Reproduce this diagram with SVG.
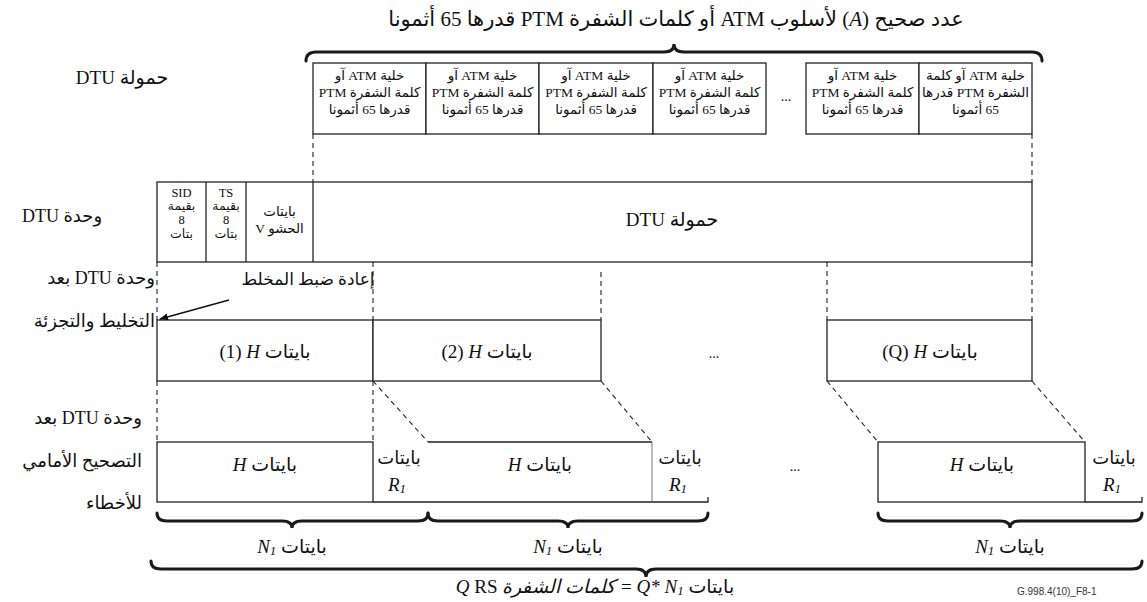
<svg xmlns="http://www.w3.org/2000/svg" width="1147" height="602" viewBox="0 0 1147 602">
<defs>
<style>
text{font-family:'Liberation Serif','DejaVu Sans',serif;fill:#111}
.ar{direction:rtl;unicode-bidi:embed}
.t21{font-size:21px}
.t19{font-size:19px}
.t18{font-size:18px}
.t17{font-size:17px}
.t13{font-size:13.5px}
.t12{font-size:12.5px}
.box{fill:#fff;stroke:#222;stroke-width:1.3}
.ln{stroke:#222;stroke-width:1.3;fill:none}
.thin{stroke:#777;stroke-width:1;fill:none}
.dash{stroke:#222;stroke-width:1.1;stroke-dasharray:5,4;fill:none}
.brace{stroke:#1a1a1a;stroke-width:3;fill:none;stroke-linecap:round}
.i{font-style:italic}
.code{font-family:'Liberation Sans',sans-serif;font-size:10px;fill:#333}
</style>
<marker id="arr" viewBox="0 0 10 10" refX="9" refY="5" markerWidth="9" markerHeight="9" orient="auto" markerUnits="userSpaceOnUse">
<path d="M0,1 L10,5 L0,9 z" fill="#111"/>
</marker>
</defs>
<rect width="1147" height="602" fill="#fff"/>

<g id="title">
<text class="t21 ar" x="676" y="26" text-anchor="middle">عدد صحيح (<tspan class="i">A</tspan>) لأسلوب ATM أو كلمات الشفرة PTM قدرها 65 أثمونا</text>
<path class="brace" d="M306,61 Q306,52 316,52 L664,52 Q674,52 674,44 Q674,52 684,52 L1032,52 Q1042,52 1042,61"/>
</g>

<g id="labels-left">
<text class="t19 ar" x="122" y="84" text-anchor="middle">حمولة DTU</text>
<text class="t18 ar" x="62" y="222" text-anchor="middle">وحدة DTU</text>
<text class="t18 ar" x="155" y="284" text-anchor="start">وحدة DTU بعد</text>
<text class="t18 ar" x="155" y="327" text-anchor="start">التخليط والتجزئة</text>
<text class="t18 ar" x="142" y="424" text-anchor="start">وحدة DTU بعد</text>
<text class="t18 ar" x="142" y="467" text-anchor="start">التصحيح الأمامي</text>
<text class="t18 ar" x="142" y="509" text-anchor="start">للأخطاء</text>
</g>

<g id="payload-cells">
<rect class="box" x="313" y="63" width="113" height="71"/>
<rect class="box" x="426" y="63" width="113" height="71"/>
<rect class="box" x="539" y="63" width="114" height="71"/>
<rect class="box" x="653" y="63" width="113" height="71"/>
<rect class="box" x="806" y="63" width="113" height="71"/>
<rect class="box" x="919" y="63" width="113" height="71"/>
<g class="t13">
<text class="ar" x="369.5" y="80" text-anchor="middle">خلية ATM آو</text>
<text class="ar" x="369.5" y="97" text-anchor="middle">كلمة الشفرة PTM</text>
<text class="ar" x="369.5" y="114" text-anchor="middle">قدرها 65 أثمونا</text>
<text class="ar" x="482.5" y="80" text-anchor="middle">خلية ATM آو</text>
<text class="ar" x="482.5" y="97" text-anchor="middle">كلمة الشفرة PTM</text>
<text class="ar" x="482.5" y="114" text-anchor="middle">قدرها 65 أثمونا</text>
<text class="ar" x="596" y="80" text-anchor="middle">خلية ATM آو</text>
<text class="ar" x="596" y="97" text-anchor="middle">كلمة الشفرة PTM</text>
<text class="ar" x="596" y="114" text-anchor="middle">قدرها 65 أثمونا</text>
<text class="ar" x="709.5" y="80" text-anchor="middle">خلية ATM آو</text>
<text class="ar" x="709.5" y="97" text-anchor="middle">كلمة الشفرة PTM</text>
<text class="ar" x="709.5" y="114" text-anchor="middle">قدرها 65 أثمونا</text>
<text class="ar" x="862.5" y="80" text-anchor="middle">خلية ATM آو</text>
<text class="ar" x="862.5" y="97" text-anchor="middle">كلمة الشفرة PTM</text>
<text class="ar" x="862.5" y="114" text-anchor="middle">قدرها 65 أثمونا</text>
<text class="ar" x="975.5" y="80" text-anchor="middle">خلية ATM آو كلمة</text>
<text class="ar" x="975.5" y="97" text-anchor="middle">الشفرة PTM قدرها</text>
<text class="ar" x="975.5" y="114" text-anchor="middle">65 أثمونا</text>
</g>
<text x="786" y="101" font-size="14" text-anchor="middle">...</text>
</g>

<g id="dtu-row">
<rect class="box" x="157" y="182" width="875" height="80"/>
<line class="ln" x1="206" y1="182" x2="206" y2="262"/>
<line class="ln" x1="246" y1="182" x2="246" y2="262"/>
<line class="ln" x1="313" y1="182" x2="313" y2="262"/>
<g class="t12">
<text x="181.5" y="197" text-anchor="middle">SID</text>
<text class="ar" x="181.5" y="210" text-anchor="middle">بقيمة</text>
<text x="181.5" y="224" text-anchor="middle">8</text>
<text class="ar" x="181.5" y="238" text-anchor="middle">بتات</text>
<text x="226" y="197" text-anchor="middle">TS</text>
<text class="ar" x="226" y="210" text-anchor="middle">بقيمة</text>
<text x="226" y="224" text-anchor="middle">8</text>
<text class="ar" x="226" y="238" text-anchor="middle">بتات</text>
</g>
<text class="t13 ar" x="279.5" y="216" text-anchor="middle">بايتات</text>
<text class="t13 ar" x="279.5" y="233" text-anchor="middle">الحشو V</text>
<text class="t19 ar" x="672" y="226" text-anchor="middle">حمولة DTU</text>
</g>

<g id="h-row">
<rect class="box" x="157" y="320" width="216" height="61"/>
<rect class="box" x="373" y="320" width="228" height="61"/>
<rect class="box" x="827" y="320" width="205" height="61"/>
<text class="t19" x="265" y="358" text-anchor="middle">(1) <tspan class="i">H</tspan> بايتات</text>
<text class="t19" x="487" y="358" text-anchor="middle">(2) <tspan class="i">H</tspan> بايتات</text>
<text x="714" y="358" font-size="14" text-anchor="middle">...</text>
<text class="t19" x="930" y="358" text-anchor="middle">(Q) <tspan class="i">H</tspan> بايتات</text>
</g>

<g id="reset-note">
<text class="t17 ar" x="308" y="285" text-anchor="middle">إعادة ضبط المخلط</text>
</g>

<g id="fec-row">
<rect class="box" x="157" y="442" width="216" height="60"/>
<path class="ln" d="M428,442 H652 M373,502 H652"/>
<line class="thin" x1="652" y1="442" x2="652" y2="502"/>
<rect class="box" x="878" y="442" width="207" height="60"/>
<path class="ln" d="M652,502 H708 V497"/>
<path class="ln" d="M1085,502 H1142 V497"/>
<text class="t19" x="265" y="471" text-anchor="middle"><tspan class="i">H</tspan> بايتات</text>
<text class="t19" x="540" y="471" text-anchor="middle"><tspan class="i">H</tspan> بايتات</text>
<text x="795" y="471" font-size="14" text-anchor="middle">...</text>
<text class="t19" x="982" y="471" text-anchor="middle"><tspan class="i">H</tspan> بايتات</text>
<text class="t18 ar" x="399" y="464" text-anchor="middle">بايتات</text>
<text class="t19 i" x="397" y="491" text-anchor="middle">R<tspan font-size="13" dy="2">1</tspan></text>
<text class="t18 ar" x="680" y="464" text-anchor="middle">بايتات</text>
<text class="t19 i" x="678" y="491" text-anchor="middle">R<tspan font-size="13" dy="2">1</tspan></text>
<text class="t18 ar" x="1114" y="464" text-anchor="middle">بايتات</text>
<text class="t19 i" x="1112" y="491" text-anchor="middle">R<tspan font-size="13" dy="2">1</tspan></text>
</g>

<g id="bottom-braces">
<path class="brace" d="M157,513 Q157,521 167,521 L282,521 Q292,521 292,528 Q292,521 302,521 L418,521 Q428,521 428,513"/>
<path class="brace" d="M428,513 Q428,521 438,521 L558,521 Q568,521 568,528 Q568,521 578,521 L698,521 Q708,521 708,513"/>
<path class="brace" d="M878,513 Q878,521 888,521 L1000,521 Q1010,521 1010,528 Q1010,521 1020,521 L1132,521 Q1142,521 1142,513"/>
<text class="t19" x="292" y="553" text-anchor="middle"><tspan class="i">N<tspan font-size="13" dy="2">1</tspan></tspan><tspan dy="-2"> بايتات</tspan></text>
<text class="t19" x="568" y="553" text-anchor="middle"><tspan class="i">N<tspan font-size="13" dy="2">1</tspan></tspan><tspan dy="-2"> بايتات</tspan></text>
<text class="t19" x="1010" y="553" text-anchor="middle"><tspan class="i">N<tspan font-size="13" dy="2">1</tspan></tspan><tspan dy="-2"> بايتات</tspan></text>
<path class="brace" d="M151,561 Q151,569 161,569 L636,569 Q646,569 646,577 Q646,569 656,569 L1132,569 Q1142,569 1142,561"/>
<text class="t19" x="595" y="593" text-anchor="middle"><tspan class="i">Q</tspan> RS <tspan class="i">كلمات الشفرة</tspan><tspan dx="6">=&#160;</tspan><tspan class="i">Q* N<tspan font-size="13" dy="2">1</tspan></tspan><tspan dy="-2"> بايتات</tspan></text>
<text class="code" x="1017" y="595">G.998.4(10)_F8-1</text>
</g>

<g id="connectors">
<line class="dash" x1="313" y1="134" x2="313" y2="182"/>
<line class="dash" x1="1032" y1="134" x2="1032" y2="182"/>
<line class="dash" x1="157" y1="262" x2="157" y2="320"/>
<line class="dash" x1="373" y1="262" x2="373" y2="320"/>
<line class="dash" x1="601" y1="272" x2="601" y2="320"/>
<line class="dash" x1="827" y1="262" x2="827" y2="320"/>
<line class="dash" x1="1032" y1="262" x2="1032" y2="320"/>
<line class="dash" x1="157" y1="381" x2="157" y2="442"/>
<line class="dash" x1="373" y1="381" x2="373" y2="442"/>
<line class="dash" x1="373" y1="381" x2="428" y2="442"/>
<line class="dash" x1="601" y1="381" x2="652" y2="442"/>
<line class="dash" x1="827" y1="381" x2="878" y2="442"/>
<line class="dash" x1="1032" y1="381" x2="1085" y2="442"/>
<line x1="229" y1="300" x2="160" y2="319" stroke="#111" stroke-width="1.3" marker-end="url(#arr)"/>
</g>
</svg>
